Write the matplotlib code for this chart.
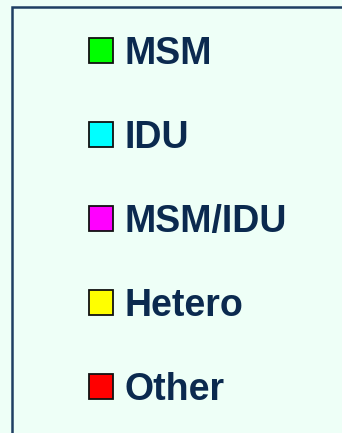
import matplotlib
matplotlib.use("Agg")
import matplotlib.pyplot as plt
from matplotlib.patches import Patch, Rectangle

categories = ["MSM", "IDU", "MSM/IDU", "Hetero", "Other"]
colors = ["#00FF00", "#00FFFF", "#FF00FF", "#FFFF00", "#FF0000"]

W, H = 342, 433
fig = plt.figure(figsize=(W / 100, H / 100), dpi=100, facecolor="#EEFFF7")

# frame box extending past right/bottom edges
fig.patches.append(Rectangle((12 / W, -0.1), 1.2, (H - 7) / H + 0.1,
                             transform=fig.transFigure, facecolor="#EEFFF7",
                             edgecolor="#1F3F63", linewidth=1.8))

handles = [Patch(facecolor=c, edgecolor="#111111", linewidth=1.3) for c in colors]
leg = fig.legend(handles, categories, loc="upper left",
                 bbox_to_anchor=(89 / W, 1 - 36 / H),
                 frameon=False, borderpad=0, borderaxespad=0,
                 handlelength=0.64, handleheight=0.64, handletextpad=0.3,
                 labelspacing=1.28,
                 prop={"family": "Liberation Sans", "weight": "bold", "size": 27})
for t in leg.get_texts():
    t.set_color("#0B2A4F")

fig.savefig("out.png", dpi=100, facecolor=fig.get_facecolor())
